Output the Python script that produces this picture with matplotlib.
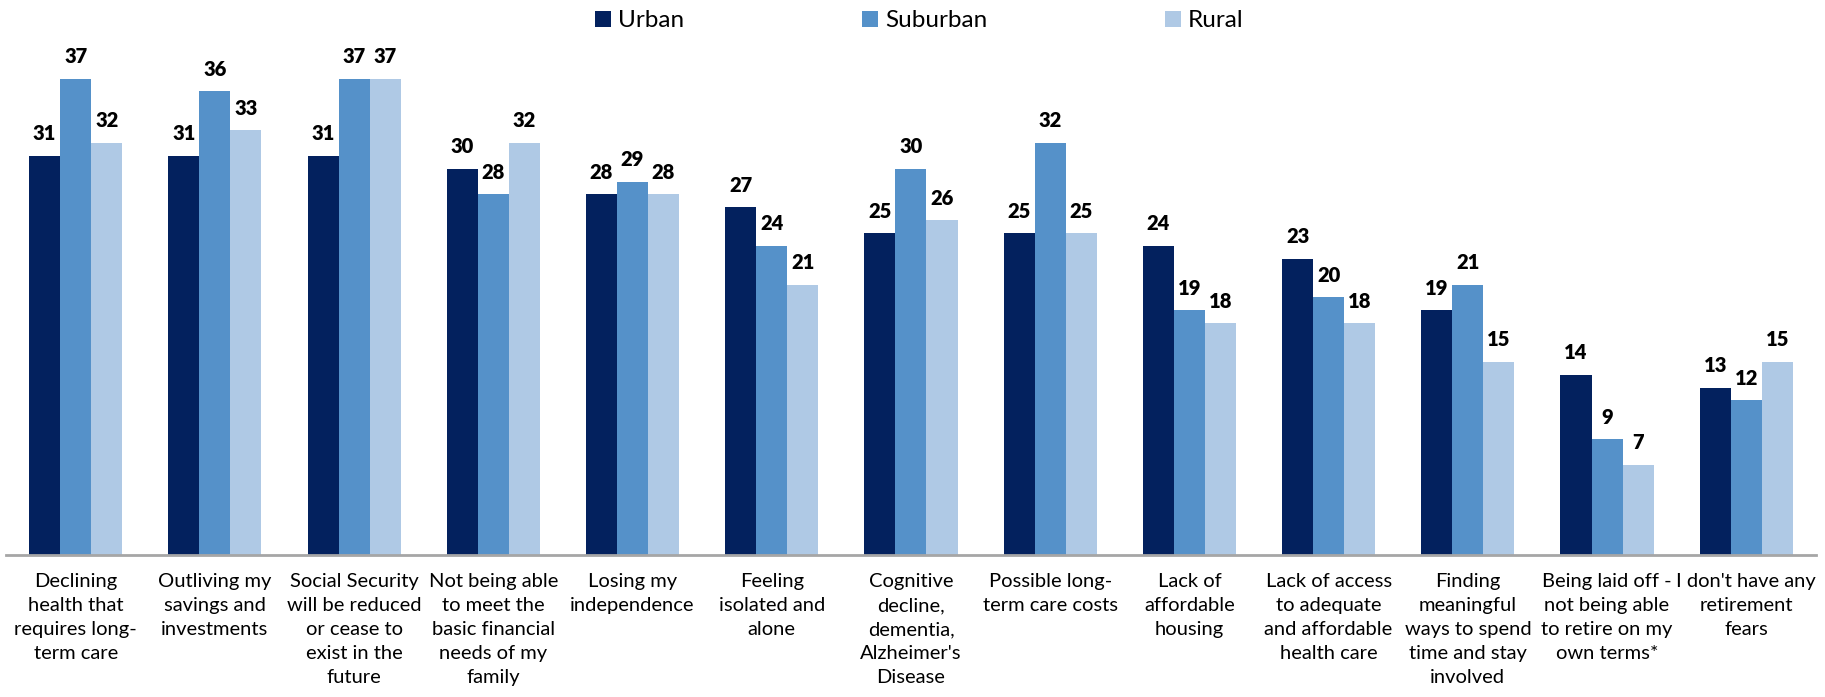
import matplotlib
matplotlib.use("Agg")
import matplotlib.pyplot as plt
import numpy as np

categories = [
    "Declining\nhealth that\nrequires long-\nterm care",
    "Outliving my\nsavings and\ninvestments",
    "Social Security\nwill be reduced\nor cease to\nexist in the\nfuture",
    "Not being able\nto meet the\nbasic financial\nneeds of my\nfamily",
    "Losing my\nindependence",
    "Feeling\nisolated and\nalone",
    "Cognitive\ndecline,\ndementia,\nAlzheimer's\nDisease",
    "Possible long-\nterm care costs",
    "Lack of\naffordable\nhousing",
    "Lack of access\nto adequate\nand affordable\nhealth care",
    "Finding\nmeaningful\nways to spend\ntime and stay\ninvolved",
    "Being laid off -\nnot being able\nto retire on my\nown terms*",
    "I don't have any\nretirement\nfears",
]
series_names = ["Urban", "Suburban", "Rural"]
urban = [31, 31, 31, 30, 28, 27, 25, 25, 24, 23, 19, 14, 13]
suburban = [37, 36, 37, 28, 29, 24, 30, 32, 19, 20, 21, 9, 12]
rural = [32, 33, 37, 32, 28, 21, 26, 25, 18, 18, 15, 7, 15]
colors = ["#03215E", "#5591C9", "#AFC9E5"]

plt.rcParams['font.family'] = ['Lato', 'DejaVu Sans']

fig = plt.figure(figsize=(18.25, 6.97), dpi=100)
ax = fig.add_axes([0.0033, 0.2037, 0.9917, 0.739])

x = np.arange(len(categories))
w = 0.223
handles = []
for i, (vals, c, name) in enumerate(zip([urban, suburban, rural], colors, series_names)):
    b = ax.bar(x + (i - 1) * w, vals, width=w, color=c, label=name)
    handles.append(b)
    for xi, v in zip(x + (i - 1) * w, vals):
        ax.annotate(str(v), (xi, v), xytext=(0, 9), textcoords="offset points",
                    ha="center", va="bottom", fontsize=14.5, fontweight="heavy", color="black")

ax.set_xlim(-0.5, len(categories) - 0.5)
ax.set_ylim(0, 40)
ax.set_yticks([])
ax.set_xticks(x)
ax.set_xticklabels(categories, fontsize=14.5, linespacing=1.5)
ax.tick_params(axis="x", length=0, pad=13)
for s in ["top", "right", "left"]:
    ax.spines[s].set_visible(False)
ax.spines["bottom"].set_color("#A6A6A6")
ax.spines["bottom"].set_linewidth(2)

fig.legend(handles=handles, labels=series_names, loc="center", bbox_to_anchor=(0.5038, 0.970),
           ncol=3, frameon=False, fontsize=17.5, handlelength=0.66, handleheight=0.66,
           handletextpad=0.3, columnspacing=7.3, borderaxespad=0, borderpad=0)

fig.savefig("out.png", dpi=100)
